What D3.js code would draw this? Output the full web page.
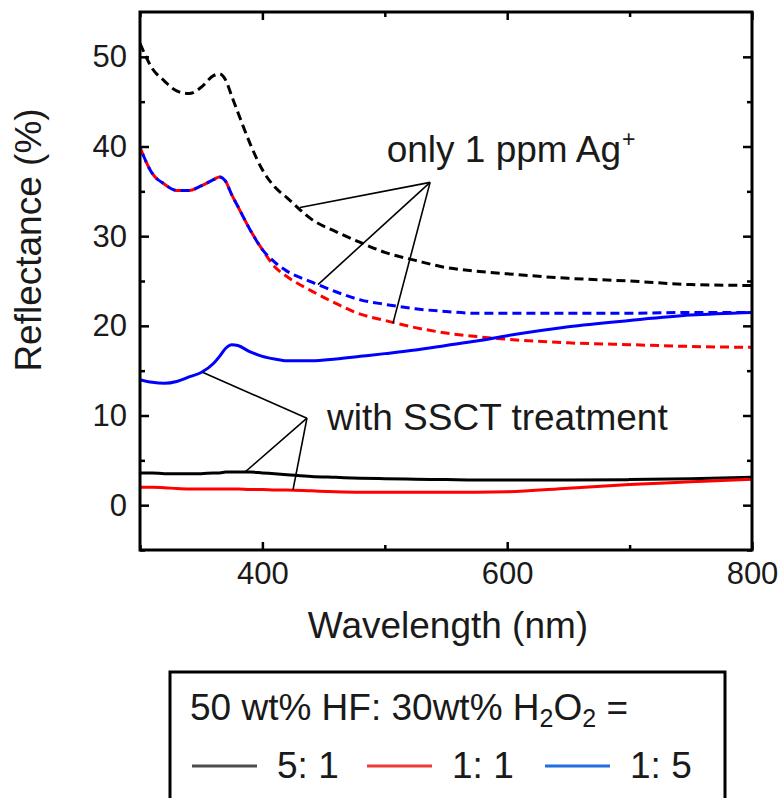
<!DOCTYPE html>
<html>
<head>
<meta charset="utf-8">
<script src="https://cdn.jsdelivr.net/npm/d3@7/dist/d3.min.js"></script>
<style>
  html, body { margin: 0; padding: 0; background: #fff; }
  svg text { font-family: "Liberation Sans", Arial, sans-serif; fill: #1a1a1a; }
</style>
</head>
<body>
<svg id="chart" width="784" height="798"></svg>
<script>
// Wavelength grid (nm) shared by every spectrum
const wavelength = [300, 310, 320, 330, 340, 350, 360, 365, 370, 375, 380, 390, 400, 410, 420,
                    440, 460, 480, 500, 525, 550, 575, 600, 650, 700, 750, 800];

// Reflectance (%) — etched with only 1 ppm Ag+ (dashed)
const agOnly_5to1 = [51.5, 48.7, 47.3, 46.2, 45.9, 46.6, 47.9, 48.1, 47.4, 45.6, 43.8, 40.3, 37.4, 35.5, 34.3,
                     31.9, 30.5, 29.3, 28.2, 27.3, 26.5, 26.1, 25.8, 25.3, 25.0, 24.6, 24.5];
const agOnly_1to1 = [39.9, 37.0, 35.8, 35.1, 35.1, 35.6, 36.3, 36.6, 36.1, 34.6, 33.3, 30.7, 28.5, 26.6, 25.5,
                     23.9, 22.5, 21.3, 20.6, 19.8, 19.2, 18.8, 18.5, 18.1, 17.9, 17.7, 17.6];
const agOnly_1to5 = [39.9, 37.0, 35.8, 35.1, 35.1, 35.6, 36.3, 36.6, 36.1, 34.6, 33.3, 30.7, 28.5, 27.1, 26.1,
                     24.9, 23.8, 22.9, 22.4, 21.9, 21.6, 21.4, 21.4, 21.4, 21.4, 21.5, 21.5];

// Reflectance (%) — with SSCT treatment (solid)
const ssct_5to1 = [3.6, 3.6, 3.5, 3.5, 3.5, 3.5, 3.6, 3.6, 3.7, 3.7, 3.7, 3.7, 3.6, 3.5, 3.4,
                   3.2, 3.1, 3.0, 2.95, 2.9, 2.85, 2.8, 2.8, 2.8, 2.85, 2.95, 3.1];
const ssct_1to1 = [2.0, 2.0, 1.95, 1.85, 1.8, 1.8, 1.8, 1.8, 1.8, 1.8, 1.8, 1.75, 1.75, 1.7, 1.7,
                   1.6, 1.5, 1.45, 1.45, 1.45, 1.45, 1.45, 1.5, 1.9, 2.3, 2.6, 2.9];
const ssct_1to5 = [14.0, 13.7, 13.6, 13.8, 14.3, 14.8, 15.8, 16.6, 17.5, 17.9, 17.8, 17.1, 16.6, 16.3, 16.1,
                   16.1, 16.3, 16.6, 16.9, 17.3, 17.8, 18.3, 18.9, 19.9, 20.6, 21.2, 21.5];

// Axis ticks
const xMajorTicks = [400, 600, 800];
const xMinorTicks = [300, 500, 700];
const yMajorTicks = [0, 10, 20, 30, 40, 50];
const yMinorTicks = [-5, 5, 15, 25, 35, 45];

// Legend entries
const legendLabels = ["5: 1", "1: 1", "1: 5"];
const legendColors = ["#4d4d4d", "#f03a3a", "#1f6fdc"];

// Series drawing order and styles
const seriesList = [
  { values: agOnly_5to1, color: "#000000", dashed: true, offset: 0 },
  { values: agOnly_1to1, color: "#ff0000", dashed: true, offset: 0 },
  { values: agOnly_1to5, color: "#0000ff", dashed: true, offset: 7 },
  { values: ssct_5to1,   color: "#000000", dashed: false, offset: 0 },
  { values: ssct_1to1,   color: "#ff0000", dashed: false, offset: 0 },
  { values: ssct_1to5,   color: "#0000ff", dashed: false, offset: 0 }
];

// Leader-line annotations (anchors in data units)
const annotations = [
  { text: "only 1 ppm Ag", sup: "+", textAt: [501.5, 38.3], apex: [537, 36.0],
    targets: [[430.7, 33.2], [445.4, 24.6], [506.7, 20.3]] },
  { text: "with SSCT treatment", sup: null, textAt: [452.8, 8.4], apex: [436.4, 9.7],
    targets: [[351.5, 14.8], [385.8, 3.7], [425, 1.7]] }
];

const svg = d3.select("#chart");
const plotLeft = 140, plotRight = 752, plotTop = 12, plotBottom = 550;
const textSize = 37, tickSize = 31;

const x = d3.scaleLinear().domain([300, 800]).range([plotLeft, plotRight]);
const y = d3.scaleLinear().domain([-5, 55]).range([plotBottom, plotTop]);

svg.append("clipPath").attr("id", "clip")
  .append("rect").attr("x", plotLeft).attr("y", plotTop)
  .attr("width", plotRight - plotLeft).attr("height", plotBottom - plotTop);

const line = d3.line()
  .x((d, i) => x(wavelength[i]))
  .y(d => y(d))
  .curve(d3.curveMonotoneX);

const curves = svg.append("g").attr("clip-path", "url(#clip)");
seriesList.forEach(s => {
  curves.append("path")
    .datum(s.values)
    .attr("d", line)
    .attr("fill", "none")
    .attr("stroke", s.color)
    .attr("stroke-width", 3)
    .attr("stroke-dasharray", s.dashed ? "9,5" : null)
    .attr("stroke-dashoffset", s.offset);
});

// Annotations
annotations.forEach(a => {
  const g = svg.append("g");
  a.targets.forEach(t => {
    g.append("line")
      .attr("x1", x(a.apex[0])).attr("y1", y(a.apex[1]))
      .attr("x2", x(t[0])).attr("y2", y(t[1]))
      .attr("stroke", "#000").attr("stroke-width", 1.6);
  });
  const txt = g.append("text")
    .attr("x", x(a.textAt[0])).attr("y", y(a.textAt[1]))
    .attr("font-size", textSize);
  txt.append("tspan").text(a.text);
  if (a.sup) {
    txt.append("tspan").attr("dy", -15).attr("dx", 1).attr("font-size", 23).text(a.sup);
  }
});

// Axes with inward ticks on all four sides
const axisBottom = d3.axisBottom(x).tickValues(xMajorTicks).tickSize(-8).tickPadding(12).tickFormat(d3.format("d"));
const axisTop = d3.axisTop(x).tickValues(xMajorTicks).tickSize(-8).tickFormat("");
const axisLeft = d3.axisLeft(y).tickValues(yMajorTicks).tickSize(-9).tickPadding(13).tickFormat(d3.format("d"));
const axisRight = d3.axisRight(y).tickValues(yMajorTicks).tickSize(-9).tickFormat("");

const minorBottom = d3.axisBottom(x).tickValues(xMinorTicks).tickSize(-5).tickFormat("");
const minorTop = d3.axisTop(x).tickValues(xMinorTicks).tickSize(-5).tickFormat("");
const minorLeft = d3.axisLeft(y).tickValues(yMinorTicks).tickSize(-5).tickFormat("");
const minorRight = d3.axisRight(y).tickValues(yMinorTicks).tickSize(-5).tickFormat("");

function styleAxis(g) {
  g.select(".domain").remove();
  g.selectAll(".tick line").attr("stroke", "#000").attr("stroke-width", 2.5);
  g.selectAll(".tick text").attr("font-size", tickSize).attr("fill", "#1a1a1a")
    .attr("font-family", "Liberation Sans, Arial, sans-serif");
}

svg.append("g").attr("transform", `translate(0,${plotBottom})`).call(axisBottom).call(styleAxis);
svg.append("g").attr("transform", `translate(0,${plotTop})`).call(axisTop).call(styleAxis);
svg.append("g").attr("transform", `translate(${plotLeft},0)`).call(axisLeft).call(styleAxis);
svg.append("g").attr("transform", `translate(${plotRight},0)`).call(axisRight).call(styleAxis);
svg.append("g").attr("transform", `translate(0,${plotBottom})`).call(minorBottom).call(styleAxis);
svg.append("g").attr("transform", `translate(0,${plotTop})`).call(minorTop).call(styleAxis);
svg.append("g").attr("transform", `translate(${plotLeft},0)`).call(minorLeft).call(styleAxis);
svg.append("g").attr("transform", `translate(${plotRight},0)`).call(minorRight).call(styleAxis);

// Frame
svg.append("rect")
  .attr("x", plotLeft).attr("y", plotTop)
  .attr("width", plotRight - plotLeft).attr("height", plotBottom - plotTop)
  .attr("fill", "none").attr("stroke", "#000").attr("stroke-width", 3);

// Axis titles
svg.append("text")
  .attr("x", (plotLeft + plotRight) / 2 + 2).attr("y", 638)
  .attr("text-anchor", "middle").attr("font-size", textSize)
  .text("Wavelength (nm)");
svg.append("text")
  .attr("transform", "translate(41,240) rotate(-90)")
  .attr("text-anchor", "middle").attr("font-size", textSize)
  .text("Reflectance (%)");

// Legend
const legend = svg.append("g");
legend.append("rect")
  .attr("x", 170).attr("y", 672).attr("width", 555).attr("height", 160)
  .attr("fill", "#fff").attr("stroke", "#000").attr("stroke-width", 3);
const title = legend.append("text").attr("x", 190).attr("y", 720).attr("font-size", textSize);
title.append("tspan").text("50 wt% HF: 30wt% H");
title.append("tspan").attr("font-size", 25).attr("dy", 7).text("2");
title.append("tspan").attr("dy", -7).text("O");
title.append("tspan").attr("font-size", 25).attr("dy", 7).text("2");
title.append("tspan").attr("dy", -7).text(" =");

const itemX = [192, 367, 545];
legendLabels.forEach((lab, i) => {
  legend.append("line")
    .attr("x1", itemX[i]).attr("x2", itemX[i] + 65)
    .attr("y1", 766).attr("y2", 766)
    .attr("stroke", legendColors[i]).attr("stroke-width", 3);
  legend.append("text")
    .attr("x", itemX[i] + 85).attr("y", 778).attr("font-size", textSize)
    .text(lab);
});
</script>
</body>
</html>
